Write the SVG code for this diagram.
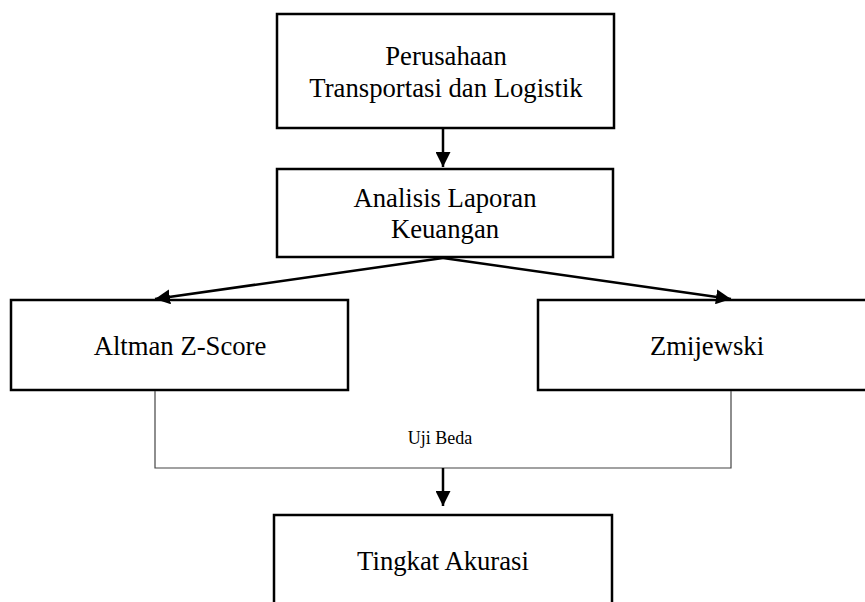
<svg xmlns="http://www.w3.org/2000/svg" width="865" height="602" viewBox="0 0 865 602">
<style>
.box{fill:#fff;stroke:#000;stroke-width:2.5}
.t{font-size:26.7px;fill:#000;text-anchor:middle}
.s{font-size:18px;fill:#000;text-anchor:middle}
.a{stroke:#000;stroke-width:2.5;fill:none}
.thin{stroke:#444;stroke-width:1.2;fill:none}
</style>
<defs>
<marker id="ah" viewBox="0 0 10 10" refX="10" refY="5" markerWidth="6" markerHeight="6" markerUnits="strokeWidth" orient="auto">
<path d="M0,0 L10,5 L0,10 z" fill="#000"/>
</marker>
</defs>
<g font-family="'Liberation Serif', 'DejaVu Serif', serif">
<g id="n1"><rect class="box" x="277" y="14" width="337" height="114"/>
<text class="t" x="446" y="65">Perusahaan</text>
<text class="t" x="446" y="97">Transportasi dan Logistik</text></g>
<g id="n2"><rect class="box" x="277" y="169" width="336" height="88"/>
<text class="t" x="445" y="207">Analisis Laporan</text>
<text class="t" x="445" y="238">Keuangan</text></g>
<g id="n3"><rect class="box" x="11" y="300" width="337" height="90"/>
<text class="t" x="180" y="355">Altman Z-Score</text></g>
<g id="n4"><rect class="box" x="538" y="300" width="340" height="90"/>
<text class="t" x="707" y="355">Zmijewski</text></g>
<g id="n5"><rect class="box" x="274" y="515" width="338" height="100"/>
<text class="t" x="443" y="570">Tingkat Akurasi</text></g>
<g id="connectors">
<line class="a" x1="443" y1="128" x2="443" y2="167" marker-end="url(#ah)"/>
<line class="a" x1="443" y1="258" x2="155" y2="299" marker-end="url(#ah)"/>
<line class="a" x1="443" y1="258" x2="731" y2="299" marker-end="url(#ah)"/>
<polyline class="thin" points="155,391 155,468 731,468 731,391"/>
<line class="a" x1="443" y1="468" x2="443" y2="506" marker-end="url(#ah)"/>
<text class="s" x="440" y="444">Uji Beda</text>
</g>
</g>
</svg>
